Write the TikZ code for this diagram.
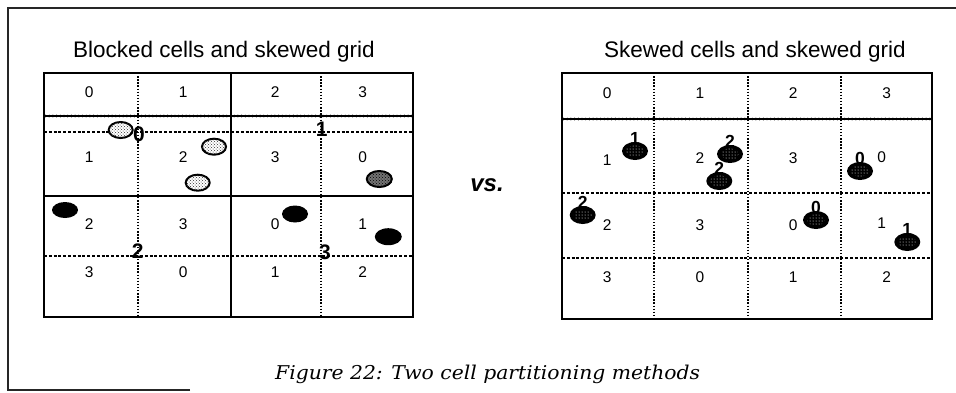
\documentclass[tikz,border=0pt]{standalone}
\usepackage{fontspec}
\setsansfont{Liberation Sans}
\newfontfamily\capfont{DejaVu Serif}
\usetikzlibrary{patterns}
\begin{document}
\begin{tikzpicture}[x=1pt,y=-1pt,
  frame/.style={line width=1.1pt, black!85},
  gridbox/.style={line width=1.7pt},
  solidv/.style={line width=1.5pt},
  dotv/.style={line width=1.4pt, dash pattern=on 1.4pt off 1.7pt},
  dashh/.style={line width=1.1pt, dash pattern=on 3pt off 1.8pt},
  lbl/.style={font=\sffamily\fontsize{15.5}{15.5}\selectfont, inner sep=0pt},
  ttl/.style={font=\sffamily\fontsize{22.5}{22.5}\selectfont, inner sep=0pt, anchor=base west},
  bigdig/.style={font=\sffamily\bfseries\fontsize{21}{21}\selectfont, inner sep=0pt},
  ovdig/.style={font=\sffamily\bfseries\fontsize{17.5}{17.5}\selectfont, inner sep=0pt},
  lightoval/.style={line width=2pt, draw=black, fill=white, postaction={pattern=crosshatch dots, pattern color=black!80}},
  greyoval/.style={line width=2pt, draw=black, fill=black!55, postaction={pattern=crosshatch dots, pattern color=black}},
  blackoval/.style={fill=black},
]
\useasboundingbox (0,0) rectangle (956,392);

% outer frame (left, top, bottom part)
\draw[frame] (190,390) -- (8,390) -- (8,8) -- (956,8);

% titles
\node[ttl] (t1) at (73,57) {Blocked cells and skewed grid};
\node[ttl] (t2) at (604,57) {Skewed cells and skewed grid};

% ---------- left grid ----------
\draw[dotv] (138,73) -- (138,317);
\draw[dotv] (321,73) -- (321,317);
\draw[dashh] (44,132) -- (413,132);
\draw[dashh] (44,256) -- (413,256);
\draw[solidv] (231,73) -- (231,317);
\draw[solidv] (44,196) -- (413,196);
\draw[line width=1.6pt] (44,116) -- (413,116);
\foreach \bx in {45.5,49.2,...,412} \fill (\bx,116) circle (1.45pt);
\draw[gridbox] (44,73) rectangle (413,317);

% left labels
\foreach \lab [count=\i] in {0,1,2,3} {
  \pgfmathsetmacro\cx{{89.3,183.3,275.3,362.7}[\i-1]}
  \node[lbl] (la\i) at (\cx,91.7) {\lab};
}
\foreach \lab [count=\i] in {1,2,3,0} {
  \pgfmathsetmacro\cx{{89.3,183.3,275.3,362.7}[\i-1]}
  \node[lbl] (lb\i) at (\cx,156.7) {\lab};
}
\foreach \lab [count=\i] in {2,3,0,1} {
  \pgfmathsetmacro\cx{{89.3,183.3,275.3,362.7}[\i-1]}
  \node[lbl] (lc\i) at (\cx,224) {\lab};
}
\foreach \lab [count=\i] in {3,0,1,2} {
  \pgfmathsetmacro\cx{{89.3,183.3,275.3,362.7}[\i-1]}
  \node[lbl] (ld\i) at (\cx,272.5) {\lab};
}

% left ovals
\path[lightoval] (120.7,130) ellipse [x radius=12pt, y radius=8pt];
\path[lightoval] (214,146.7) ellipse [x radius=12pt, y radius=8pt];
\path[lightoval] (197.7,182.7) ellipse [x radius=12pt, y radius=8pt];
\path[greyoval] (379.3,179) ellipse [x radius=12.5pt, y radius=8pt];
\path[blackoval] (65,210) ellipse [x radius=13pt, y radius=8pt];
\path[blackoval] (295,214) ellipse [x radius=13pt, y radius=8.5pt];
\path[blackoval] (388.3,236.7) ellipse [x radius=13.5pt, y radius=8.5pt];

% left bold grid labels
\node[bigdig] (g0) at (139,134) {0};
\node[bigdig] (g1) at (321.7,129) {1};
\node[bigdig] (g2) at (137.7,251) {2};
\node[bigdig] (g3) at (325,252) {3};

% vs.
\node[font=\sffamily\bfseries\itshape\fontsize{24}{24}\selectfont, inner sep=0pt, anchor=base] (vs) at (487,191) {vs.};

% ---------- right grid ----------
\draw[dotv] (654,73) -- (654,319);
\draw[dotv] (748,73) -- (748,319);
\draw[dotv] (841,73) -- (841,319);
\draw[dashh] (562,193) -- (932,193);
\draw[dashh] (562,258) -- (932,258);
\draw[line width=1.6pt] (562,119) -- (932,119);
\foreach \bx in {563.5,567.2,...,931} \fill (\bx,119) circle (1.45pt);
\draw[line width=1.3pt] (562,73) rectangle (932,319);

% right labels
\foreach \lab [count=\i] in {0,1,2,3} {
  \pgfmathsetmacro\cx{{607.3,700,793.3,886.7}[\i-1]}
  \node[lbl] (ra\i) at (\cx,93.3) {\lab};
}
\node[lbl] (rb1) at (607.3,160) {1};
\node[lbl] (rb2) at (700,158.3) {2};
\node[lbl] (rb3) at (793.3,158.3) {3};
\node[lbl] (rb4) at (881.7,156.7) {0};
\node[lbl] (rc1) at (607.3,225) {2};
\node[lbl] (rc2) at (700,225) {3};
\node[lbl] (rc3) at (793.3,225) {0};
\node[lbl] (rc4) at (881.7,223.3) {1};
\foreach \lab [count=\i] in {3,0,1,2} {
  \pgfmathsetmacro\cx{{607.3,700,793.3,886.7}[\i-1]}
  \node[lbl] (rd\i) at (\cx,276.7) {\lab};
}

% right ovals with digits
\foreach \ox/\oy/\d [count=\k] in {635/151/1, 730/154/2, 719.3/181/2, 860/171/0, 582.7/215/2, 816/220/0, 907.3/242/1} {
  \fill[black] (\ox,\oy) ellipse [x radius=13pt, y radius=9pt];
  \fill[pattern=dots, pattern color=white] (\ox,\oy) ellipse [x radius=9pt, y radius=5.5pt];
  \node[ovdig, anchor=base] (od\k) at (\ox,\oy-6.5) {\d};
}

% caption
\node[font=\capfont\itshape\fontsize{19}{19}\selectfont, inner sep=0pt, anchor=base west] (cap) at (275,379) {\scalebox{1.07}[1]{Figure 22: Two cell partitioning methods}};
\end{tikzpicture}
\end{document}
